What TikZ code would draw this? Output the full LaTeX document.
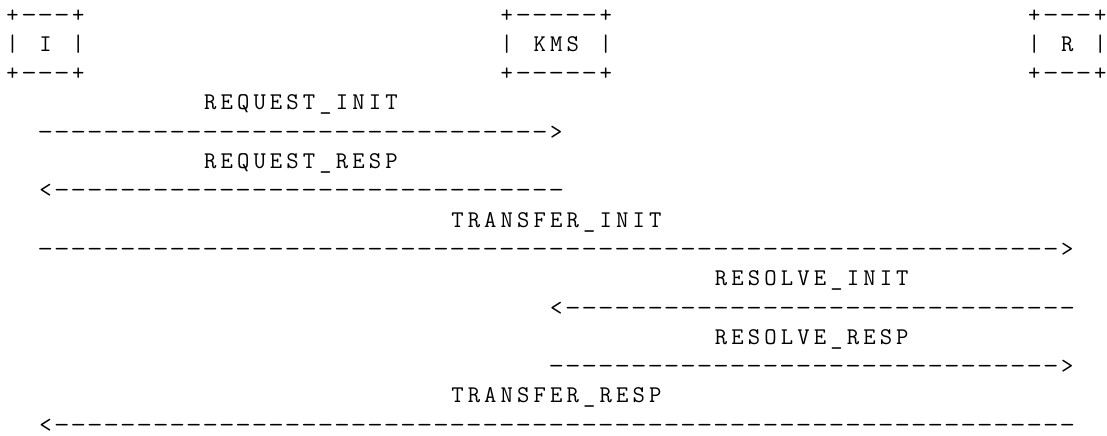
\documentclass[tikz,border=0pt]{standalone}
\usepackage{graphicx}
\newlength\cw
\setlength\cw{8.24pt}
\newcommand\cell[1]{\makebox[\cw]{#1}}
\newcommand\hcell[1]{\makebox[0.5\cw][l]{\cell{#1}}}
\def\spr#1{\sprx#1\relax}
\def\sprx#1{\ifx\relax#1\else\cell{#1}\expandafter\sprx\fi}
\newcommand\dash{\cell{\scalebox{1.25}[1]{-}}}
\newcommand\dsh[1]{\foreach \i in {1,...,#1}{\dash}}
\begin{document}
\begin{tikzpicture}[x=0.5pt,y=-0.5pt,
  asc/.style={inner sep=0pt,outer sep=0pt,anchor=base west,
    font=\ttfamily\fontsize{12}{13}\selectfont}]
\useasboundingbox (0,0) rectangle (1107,435);
\newcommand\at[2]{({4.26+16.48*#1},{22+29.3*#2})}
% boxes
\node[asc] (iTop) at \at{0}{0} {\cell{+}\dsh{3}\cell{+}};
\node[asc] (iMid) at \at{0}{1} {\spr{|~I~|}};
\node[asc] (iBot) at \at{0}{2} {\cell{+}\dsh{3}\cell{+}};
\node[asc] (kTop) at \at{30}{0} {\cell{+}\dsh{5}\cell{+}};
\node[asc] (kMid) at \at{30}{1} {\spr{|~KMS~|}};
\node[asc] (kBot) at \at{30}{2} {\cell{+}\dsh{5}\cell{+}};
\node[asc] (rTop) at \at{62}{0} {\cell{+}\dsh{3}\hcell{+}};
\node[asc] (rMid) at \at{62}{1} {\spr{|~R~}\hcell{|}};
\node[asc] (rBot) at \at{62}{2} {\cell{+}\dsh{3}\hcell{+}};
% messages
\node[asc] (l1) at \at{12}{3} {\spr{REQUEST\_INIT}};
\node[asc] (a1) at \at{2}{4} {\dsh{31}\cell{>}};
\node[asc] (l2) at \at{12}{5} {\spr{REQUEST\_RESP}};
\node[asc] (a2) at \at{2}{6} {\cell{<}\dsh{31}};
\node[asc] (l3) at \at{27}{7} {\spr{TRANSFER\_INIT}};
\node[asc] (a3) at \at{2}{8} {\dsh{62}\cell{>}};
\node[asc] (l4) at \at{43}{9} {\spr{RESOLVE\_INIT}};
\node[asc] (a4) at \at{33}{10} {\cell{<}\dsh{31}};
\node[asc] (l5) at \at{43}{11} {\spr{RESOLVE\_RESP}};
\node[asc] (a5) at \at{33}{12} {\dsh{31}\cell{>}};
\node[asc] (l6) at \at{27}{13} {\spr{TRANSFER\_RESP}};
\node[asc] (a6) at \at{2}{14} {\cell{<}\dsh{62}};
\end{tikzpicture}
\end{document}
